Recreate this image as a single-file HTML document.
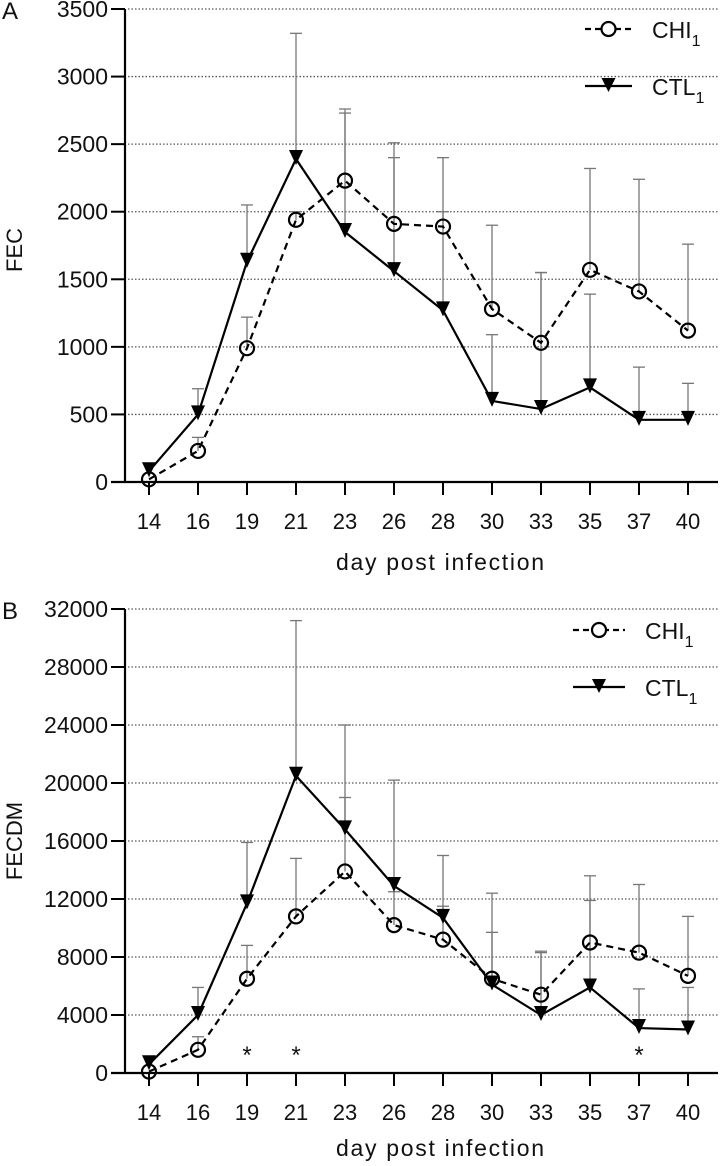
<!DOCTYPE html>
<html><head><meta charset="utf-8"><style>
body{margin:0;background:#fff;}
svg text{font-family:"Liberation Sans","DejaVu Sans",sans-serif;fill:#111;}
</style></head><body>
<svg id="c" width="720" height="1161" xmlns="http://www.w3.org/2000/svg"></svg>
<script>
const days=["14","16","19","21","23","26","28","30","33","35","37","40"];
const chiA=[20,230,990,1940,2230,1910,1890,1280,1030,1570,1410,1120];
const chiAerr=[20,330,1220,2000,2760,2510,2000,1900,1550,2320,2240,1760];
const ctlA=[80,500,1630,2390,1850,1560,1270,600,540,700,460,460];
const ctlAerr=[80,690,2050,3320,2730,2400,2400,1090,1550,1390,850,730];
const chiB=[100,1600,6500,10800,13900,10200,9200,6500,5400,9000,8300,6700];
const chiBerr=[100,2500,8800,14800,19000,12500,11500,9700,8400,11900,13000,10800];
const ctlB=[600,4000,11700,20500,16800,12900,10700,6100,4000,5900,3100,3000];
const ctlBerr=[600,5900,15900,31200,24000,20200,15000,12400,8300,13600,5800,5900];
const ticksA=[0,500,1000,1500,2000,2500,3000,3500];
const ticksB=[0,4000,8000,12000,16000,20000,24000,28000,32000];
const starsB=["19","21","37"];
const NS="http://www.w3.org/2000/svg";
const svg=document.getElementById('c');
function el(t,a,p){const e=document.createElementNS(NS,t);for(const k in a)e.setAttribute(k,a[k]);(p||svg).appendChild(e);return e;}
const x0=125,x1=718;
function xs(i){return 149+i*49.0;}
function panel(o){
  const g=el('g',{});
  
  
  const ys=v=>o.yb-(v/o.max)*(o.yb-o.yt);
  o.ticks.forEach(t=>{
    const y=ys(t);
    if(t>0){const l=el('line',{x1:x0+3,x2:x1,y1:y,y2:y,stroke:'#555','stroke-width':1.3,'stroke-dasharray':'1.5,2'},g);
      }
    el('line',{x1:x0-14,x2:x0,y1:y,y2:y,stroke:'#000','stroke-width':2},g);
    const tx=el('text',{x:x0-17,y:y+8,'font-size':23,'text-anchor':'end'},g);tx.textContent=t;
    
  });
  el('line',{x1:x0,x2:x0,y1:o.yt,y2:o.yb+1,stroke:'#000','stroke-width':2.2},g);
  el('line',{x1:x0-14,x2:x1,y1:o.yb,y2:o.yb,stroke:'#000','stroke-width':2.2},g);
  days.forEach((d,i)=>{
    el('line',{x1:xs(i),x2:xs(i),y1:o.yb,y2:o.yb+13,stroke:'#000','stroke-width':2},g);
    const tx=el('text',{x:xs(i),y:o.yb+47,'font-size':22,'text-anchor':'middle'},g);tx.textContent=d;
    
  });
  const xl=el('text',{x:440,y:o.xly,'font-size':23,'text-anchor':'middle',textLength:208},g);xl.textContent='day post infection';
  
  const yl=el('text',{x:0,y:0,'font-size':22,'text-anchor':'middle',transform:`translate(22,${o.ylc}) rotate(-90)`},g);yl.textContent=o.ylab;
  
  const pl=el('text',{x:2,y:o.yt+10,'font-size':24},g);pl.textContent=o.letter;
  
  [[o.chi,o.chiE],[o.ctl,o.ctlE]].forEach(([v,e])=>{
    v.forEach((val,i)=>{ if(i===0)return;
      const eb=el('g',{},g);
      
      el('line',{x1:xs(i),x2:xs(i),y1:ys(val),y2:ys(e[i]),stroke:'#777','stroke-width':1.3},eb);
      el('line',{x1:xs(i)-6,x2:xs(i)+6,y1:ys(e[i]),y2:ys(e[i]),stroke:'#777','stroke-width':1.3},eb);
    });
  });
  const pc=el('polyline',{points:o.chi.map((v,i)=>xs(i)+','+ys(v)).join(' '),fill:'none',stroke:'#000','stroke-width':2.2,'stroke-dasharray':'7,5'},g);
  
  const pt=el('polyline',{points:o.ctl.map((v,i)=>xs(i)+','+ys(v)).join(' '),fill:'none',stroke:'#000','stroke-width':2.2},g);
  
  o.ctl.forEach((v,i)=>{const x=xs(i),y=ys(v);
    const m=el('polygon',{points:`${x-7},${y-9} ${x+7},${y-9} ${x},${y+6}`,fill:'#000'},g);
    });
  o.chi.forEach((v,i)=>{
    const m=el('circle',{cx:xs(i),cy:ys(v),r:7,fill:'none',stroke:'#000','stroke-width':2.2},g);
    });
  (o.stars||[]).forEach(d=>{const i=days.indexOf(d);
    const s=el('text',{x:xs(i),y:o.yb-10,'font-size':24,'text-anchor':'middle'},g);s.textContent='*';
    });
  const lg=el('g',{},g);
  const l1=o.ly, l2=o.ly+57, a=o.lx0, b=o.lx1, c=(a+b)/2;
  el('line',{x1:a,x2:b,y1:l1,y2:l1,stroke:'#000','stroke-width':2.2,'stroke-dasharray':'6,4'},lg);
  el('circle',{cx:c,cy:l1,r:7,fill:'#fff',stroke:'#000','stroke-width':2.2},lg);
  const t1=el('text',{x:o.ltx,y:l1+9,'font-size':23},lg);t1.innerHTML='CHI<tspan font-size="16" dy="8">1</tspan>';
  el('line',{x1:a,x2:b,y1:l2,y2:l2,stroke:'#000','stroke-width':2.2},lg);
  el('polygon',{points:`${c-7},${l2-8} ${c+7},${l2-8} ${c},${l2+6}`,fill:'#000'},lg);
  const t2=el('text',{x:o.ltx,y:l2+9,'font-size':23},lg);t2.innerHTML='CTL<tspan font-size="16" dy="8">1</tspan>';
}
panel({name:'panel-a',letter:'A',ylab:'FEC',yt:9,yb:482,max:3500,ticks:ticksA,chi:chiA,chiE:chiAerr,ctl:ctlA,ctlE:ctlAerr,ly:29,lx0:585,lx1:632,ltx:652,xly:570,ylc:250});
panel({name:'panel-b',letter:'B',ylab:'FECDM',yt:609,yb:1073,max:32000,ticks:ticksB,chi:chiB,chiE:chiBerr,ctl:ctlB,ctlE:ctlBerr,ly:630,lx0:573,lx1:625,ltx:645,xly:1156,ylc:841,stars:starsB});
</script>
</body></html>
